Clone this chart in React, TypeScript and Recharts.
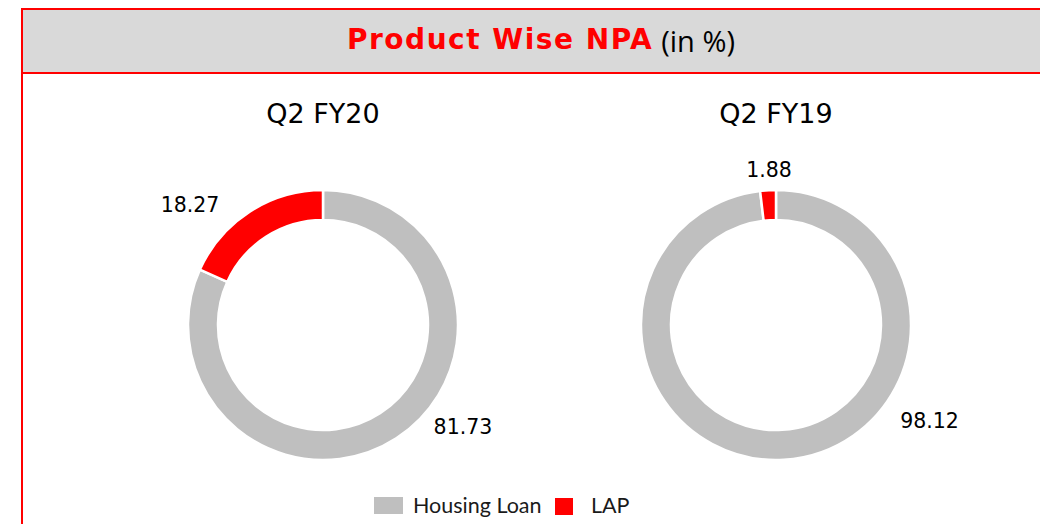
import React from 'react';
import { PieChart, Pie, Cell } from 'recharts';

const categories = ['Housing Loan', 'LAP'];
const fy20Values = [81.73, 18.27];
const fy19Values = [98.12, 1.88];
const chartTitles = ['Q2 FY20', 'Q2 FY19'];
const colors = ['#bfbfbf', '#ff0000'];

const toData = (vals: number[]) => categories.map((name, i) => ({ name, value: vals[i] }));
const fy20Data = toData(fy20Values);
const fy19Data = toData(fy19Values);

// label placement (angle in degrees, radial distance beyond outer radius)
const labelPlacement = [
  [{ a: -36, d: 38 }, { a: 138, d: 44 }],
  [{ a: -32, d: 46 }, { a: 92.6, d: 20 }],
];

const RAD = Math.PI / 180;
const makeLabel = (chartIdx: number) => (props: any) => {
  const { cx, cy, outerRadius, index, value } = props;
  const p = labelPlacement[chartIdx][index];
  const r = outerRadius + p.d;
  const x = cx + r * Math.cos(p.a * RAD);
  const y = cy - r * Math.sin(p.a * RAD);
  return (
    <text
      x={x}
      y={y}
      textAnchor="middle"
      dominantBaseline="central"
      fill="#000"
      style={{ fontFamily: 'DejaVu Sans', fontSize: 20.5 }}
    >
      {value.toFixed(2)}
    </text>
  );
};

export default function App() {
  const pies = [
    { data: fy20Data, cx: 323 },
    { data: fy19Data, cx: 776 },
  ];
  return (
    <div style={{ position: 'absolute', left: 0, top: 0, width: 1040, height: 524, overflow: 'hidden', background: '#fff' }}>
      <div
        style={{
          position: 'absolute',
          left: 21,
          top: 8,
          width: 1036,
          height: 600,
          border: '2px solid #ff0000',
        }}
      >
        <div
          style={{
            height: 62,
            background: '#d9d9d9',
            borderBottom: '2px solid #ff0000',
            display: 'flex',
            alignItems: 'center',
            justifyContent: 'center',
            whiteSpace: 'nowrap',
          }}
        >
          <span style={{ fontFamily: 'DejaVu Sans', fontWeight: 700, fontSize: 28, letterSpacing: 1.5, color: '#ff0000', marginTop: -4 }}>Product Wise NPA</span>
          <span style={{ fontFamily: 'Open Sans', fontSize: 29, color: '#000', marginLeft: 8, marginTop: -2 }}>(in %)</span>
        </div>
      </div>

      {chartTitles.map((t, i) => (
        <div
          key={t}
          style={{
            position: 'absolute',
            left: pies[i].cx - 150,
            width: 300,
            top: 97,
            textAlign: 'center',
            fontFamily: 'DejaVu Sans',
            fontSize: 27,
            color: '#000',
            lineHeight: '34px',
          }}
        >
          {t}
        </div>
      ))}

      <div style={{ position: 'absolute', left: 0, top: 0 }}>
        <PieChart width={1040} height={524} margin={{ top: 0, right: 0, bottom: 0, left: 0 }}>
          {pies.map((p, ci) => (
            <Pie
              key={ci}
              data={p.data}
              dataKey="value"
              nameKey="name"
              cx={p.cx}
              cy={325}
              innerRadius={105}
              outerRadius={135}
              startAngle={90}
              endAngle={-270}
              stroke="#ffffff"
              strokeWidth={2.5}
              label={makeLabel(ci)}
              labelLine={false}
              isAnimationActive={false}
            >
              {p.data.map((d, i) => (
                <Cell key={d.name} fill={colors[i]} />
              ))}
            </Pie>
          ))}
        </PieChart>
      </div>

      <div style={{ position: 'absolute', left: 374, top: 497, width: 29, height: 17, background: colors[0] }} />
      <div style={{ position: 'absolute', left: 413, top: 491, fontFamily: 'Lato', fontSize: 21.5, lineHeight: '28px', color: '#1a1a1a' }}>{categories[0]}</div>
      <div style={{ position: 'absolute', left: 555, top: 498, width: 18, height: 17, background: colors[1] }} />
      <div style={{ position: 'absolute', left: 591, top: 491, fontFamily: 'Lato', fontSize: 21.5, lineHeight: '28px', color: '#1a1a1a' }}>{categories[1]}</div>
    </div>
  );
}
